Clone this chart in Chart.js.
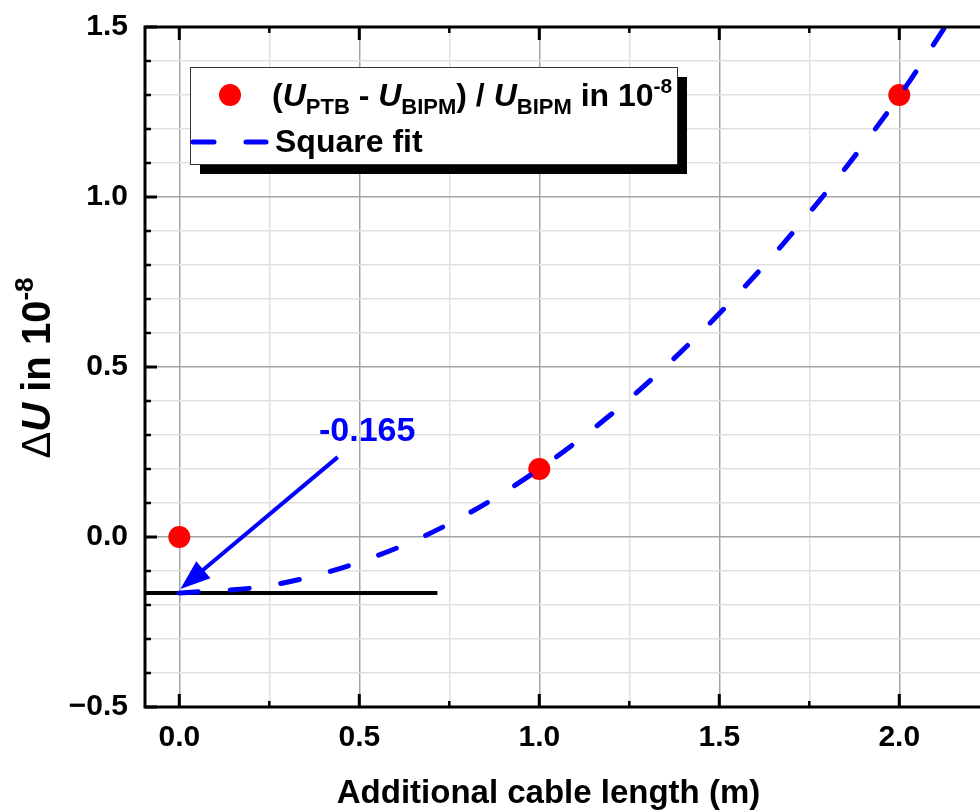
<!DOCTYPE html>
<html>
<head>
<meta charset="utf-8">
<script src="https://cdn.jsdelivr.net/npm/chart.js@4.4.1/dist/chart.umd.min.js"></script>
<style>
  html, body { margin: 0; padding: 0; background: #fff; overflow: hidden; }
  #wrap { width: 980px; height: 812px; position: relative; }
</style>
</head>
<body>
<div id="wrap"><canvas id="c"></canvas></div>
<script>
// Measured relative deviation vs. additional cable length
const cableLength = [0, 1, 2];
const deviation = [0, 0.2, 1.3];

// Square fit curve
const fitLength = [0, 0.25, 0.5, 0.75, 1.0, 1.25, 1.5, 1.75, 2.0, 2.127];
const fitDeviation = [-0.165, -0.143, -0.074, 0.039, 0.200, 0.406, 0.657, 0.953, 1.297, 1.5];

// Offset of the fit at zero length
const offsetValue = -0.165;
const offsetLabel = '-0.165';
const offsetLineLength = [-0.0953, 0.717];
const arrowFrom = [0.44, 0.235];
const arrowTo = [0.003, -0.153];
const labelAt = [0.522, 0.309];

// Axes
const xMajorTicks = [0, 0.5, 1.0, 1.5, 2.0];
const xMinorTicks = [0.25, 0.75, 1.25, 1.75];
const xTickLabels = ['0.0', '0.5', '1.0', '1.5', '2.0'];
const yMajorTicks = [-0.5, 0, 0.5, 1.0, 1.5];
const yMinorTicks = [-0.4, -0.3, -0.2, -0.1, 0.1, 0.2, 0.3, 0.4, 0.6, 0.7, 0.8, 0.9, 1.1, 1.2, 1.3, 1.4];
const yTickLabels = ['\u22120.5', '0.0', '0.5', '1.0', '1.5'];
const xRange = [-0.0953, 2.2242];
const yRange = [-0.5, 1.5];

const FONT = '"Liberation Sans", Arial, Helvetica, sans-serif';
const BLUE = '#0000ff';
const RED = '#ff0000';

function majorIndex(v, list) {
  return list.findIndex(m => Math.abs(m - v) < 1e-9);
}
function tickSet(major, minor) {
  return major.concat(minor).sort((a, b) => a - b).map(v => ({ value: v }));
}

function drawRich(ctx, x, y, runs) {
  let cx = x;
  for (const r of runs) {
    ctx.font = `${r.italic ? 'italic ' : ''}${r.weight || 'bold'} ${r.size}px ${FONT}`;
    ctx.fillText(r.text, cx, y + (r.dy || 0));
    cx += ctx.measureText(r.text).width;
  }
  return cx;
}
function richWidth(ctx, runs) {
  let w = 0;
  for (const r of runs) {
    ctx.font = `${r.italic ? 'italic ' : ''}${r.weight || 'bold'} ${r.size}px ${FONT}`;
    w += ctx.measureText(r.text).width;
  }
  return w;
}

const decorations = {
  id: 'decorations',
  afterDatasetsDraw(chart) {
    const ctx = chart.ctx;
    const xs = chart.scales.x, ys = chart.scales.y;
    // arrow pointing at the fit offset
    const x0 = xs.getPixelForValue(arrowFrom[0]), y0 = ys.getPixelForValue(arrowFrom[1]);
    const x1 = xs.getPixelForValue(arrowTo[0]), y1 = ys.getPixelForValue(arrowTo[1]);
    const ang = Math.atan2(y1 - y0, x1 - x0);
    const headLen = 30, headHalf = 11;
    const bx = x1 - headLen * Math.cos(ang), by = y1 - headLen * Math.sin(ang);
    ctx.save();
    ctx.strokeStyle = BLUE;
    ctx.fillStyle = BLUE;
    ctx.lineWidth = 4;
    ctx.beginPath();
    ctx.moveTo(x0, y0);
    ctx.lineTo(bx + 4 * Math.cos(ang), by + 4 * Math.sin(ang));
    ctx.stroke();
    ctx.beginPath();
    ctx.moveTo(x1, y1);
    ctx.lineTo(bx + headHalf * Math.sin(ang), by - headHalf * Math.cos(ang));
    ctx.lineTo(bx - headHalf * Math.sin(ang), by + headHalf * Math.cos(ang));
    ctx.closePath();
    ctx.fill();
    // offset value
    ctx.font = `bold 34px ${FONT}`;
    ctx.textAlign = 'center';
    ctx.textBaseline = 'middle';
    ctx.fillText(offsetLabel, xs.getPixelForValue(labelAt[0]), ys.getPixelForValue(labelAt[1]));
    ctx.restore();
  },
  afterDraw(chart) {
    const ctx = chart.ctx;
    const a = chart.chartArea;
    const xs = chart.scales.x, ys = chart.scales.y;
    ctx.save();
    ctx.strokeStyle = '#000';
    ctx.lineCap = 'butt';
    // tick marks, pointing into the plot
    const tick = (x1, y1, x2, y2, w) => {
      ctx.lineWidth = w;
      ctx.beginPath(); ctx.moveTo(x1, y1); ctx.lineTo(x2, y2); ctx.stroke();
    };
    xMajorTicks.forEach(v => {
      const p = xs.getPixelForValue(v);
      tick(p, a.bottom, p, a.bottom - 13, 3);
      tick(p, a.top, p, a.top + 13, 3);
    });
    xMinorTicks.forEach(v => {
      const p = xs.getPixelForValue(v);
      tick(p, a.bottom, p, a.bottom - 6, 2.5);
      tick(p, a.top, p, a.top + 6, 2.5);
    });
    yMajorTicks.forEach(v => {
      const p = ys.getPixelForValue(v);
      tick(a.left, p, a.left + 12, p, 3);
    });
    yMinorTicks.forEach(v => {
      const p = ys.getPixelForValue(v);
      tick(a.left, p, a.left + 6, p, 2.5);
    });
    // axis lines (left, bottom, top)
    ctx.lineWidth = 3;
    ctx.beginPath();
    ctx.moveTo(a.right + 2, a.top);
    ctx.lineTo(a.left, a.top);
    ctx.lineTo(a.left, a.bottom);
    ctx.lineTo(a.right + 2, a.bottom);
    ctx.stroke();

    // legend box with drop shadow
    const L = { x: 190, y: 67, w: 487, h: 97, sh: 10 };
    ctx.fillStyle = '#000';
    ctx.fillRect(L.x + L.sh, L.y + L.sh, L.w, L.h);
    ctx.fillStyle = '#fff';
    ctx.fillRect(L.x, L.y, L.w, L.h);
    ctx.lineWidth = 1;
    ctx.strokeStyle = '#333';
    ctx.strokeRect(L.x + 0.5, L.y + 0.5, L.w, L.h);
    // marker entry
    ctx.fillStyle = RED;
    ctx.beginPath();
    ctx.arc(230, 95, 11, 0, Math.PI * 2);
    ctx.fill();
    ctx.fillStyle = '#000';
    ctx.textAlign = 'left';
    ctx.textBaseline = 'alphabetic';
    drawRich(ctx, 272, 106, [
      { text: '(', size: 32 },
      { text: 'U', size: 32, italic: true },
      { text: 'PTB', size: 22, dy: 8 },
      { text: ' - ', size: 32 },
      { text: 'U', size: 32, italic: true },
      { text: 'BIPM', size: 22, dy: 8 },
      { text: ') / ', size: 32 },
      { text: 'U', size: 32, italic: true },
      { text: 'BIPM', size: 22, dy: 8 },
      { text: ' in 10', size: 32 },
      { text: '-8', size: 21, dy: -13 }
    ]);
    // line entry
    ctx.strokeStyle = BLUE;
    ctx.lineWidth = 5;
    ctx.lineCap = 'round';
    ctx.beginPath();
    ctx.moveTo(193, 142); ctx.lineTo(214, 142);
    ctx.moveTo(246, 142); ctx.lineTo(266, 142);
    ctx.stroke();
    ctx.fillStyle = '#000';
    drawRich(ctx, 275, 152, [{ text: 'Square fit', size: 32 }]);

    // x axis title
    ctx.textAlign = 'center';
    ctx.font = `bold 33px ${FONT}`;
    ctx.fillText('Additional cable length (m)', 548.5, 803);

    // y axis title (rotated)
    const yRuns = [
      { text: '\u0394', size: 40, weight: 'normal' },
      { text: 'U', size: 40, italic: true },
      { text: ' in 10', size: 40 },
      { text: '-8', size: 26, dy: -17 }
    ];
    ctx.textAlign = 'left';
    ctx.translate(50, 368);
    ctx.rotate(-Math.PI / 2);
    const w = richWidth(ctx, yRuns);
    drawRich(ctx, -w / 2, 0, yRuns);
    ctx.restore();
  }
};

new Chart(document.getElementById('c'), {
  type: 'scatter',
  data: {
    datasets: [
      {
        label: 'Square fit',
        data: fitLength.map((x, i) => ({ x, y: fitDeviation[i] })),
        showLine: true,
        borderColor: BLUE,
        borderWidth: 5,
        borderDash: [19, 32],
        borderCapStyle: 'round',
        cubicInterpolationMode: 'monotone',
        pointRadius: 0,
        order: 0
      },
      {
        label: '(U_PTB - U_BIPM) / U_BIPM in 10^-8',
        data: cableLength.map((x, i) => ({ x, y: deviation[i] })),
        backgroundColor: RED,
        borderWidth: 0,
        pointRadius: 11,
        order: 1
      },
      {
        label: 'offset',
        data: offsetLineLength.map(x => ({ x, y: offsetValue })),
        showLine: true,
        borderColor: '#000',
        borderWidth: 4,
        pointRadius: 0,
        order: 2
      }
    ]
  },
  options: {
    responsive: true,
    maintainAspectRatio: false,
    animation: false,
    events: [],
    layout: { autoPadding: false, padding: { top: 27, left: 0, right: 0, bottom: 0 } },
    plugins: { legend: { display: false }, tooltip: { enabled: false } },
    scales: {
      x: {
        type: 'linear',
        min: xRange[0],
        max: xRange[1],
        afterBuildTicks: s => { s.ticks = tickSet(xMajorTicks, xMinorTicks); },
        afterFit: s => { s.height = 105; s.paddingLeft = 0; s.paddingRight = 0; },
        border: { display: false },
        grid: {
          drawTicks: false,
          lineWidth: 1.5,
          color: c => majorIndex(c.tick.value, xMajorTicks) >= 0 ? '#a3a3a3' : '#e0e0e0'
        },
        ticks: {
          autoSkip: false,
          maxRotation: 0,
          padding: 13,
          color: '#000',
          font: { family: FONT, size: 30, weight: 'bold' },
          callback: v => { const i = majorIndex(v, xMajorTicks); return i >= 0 ? xTickLabels[i] : ''; }
        }
      },
      y: {
        type: 'linear',
        min: yRange[0],
        max: yRange[1],
        afterBuildTicks: s => { s.ticks = tickSet(yMajorTicks, yMinorTicks); },
        afterFit: s => { s.width = 145; s.paddingTop = 0; s.paddingBottom = 0; },
        border: { display: false },
        grid: {
          drawTicks: false,
          lineWidth: 1.5,
          color: c => majorIndex(c.tick.value, yMajorTicks) >= 0 ? '#a3a3a3' : '#e0e0e0'
        },
        ticks: {
          autoSkip: false,
          padding: 17,
          color: '#000',
          font: { family: FONT, size: 30, weight: 'bold' },
          callback: v => { const i = majorIndex(v, yMajorTicks); return i >= 0 ? yTickLabels[i] : ''; }
        }
      }
    }
  },
  plugins: [decorations]
});
</script>
</body>
</html>
